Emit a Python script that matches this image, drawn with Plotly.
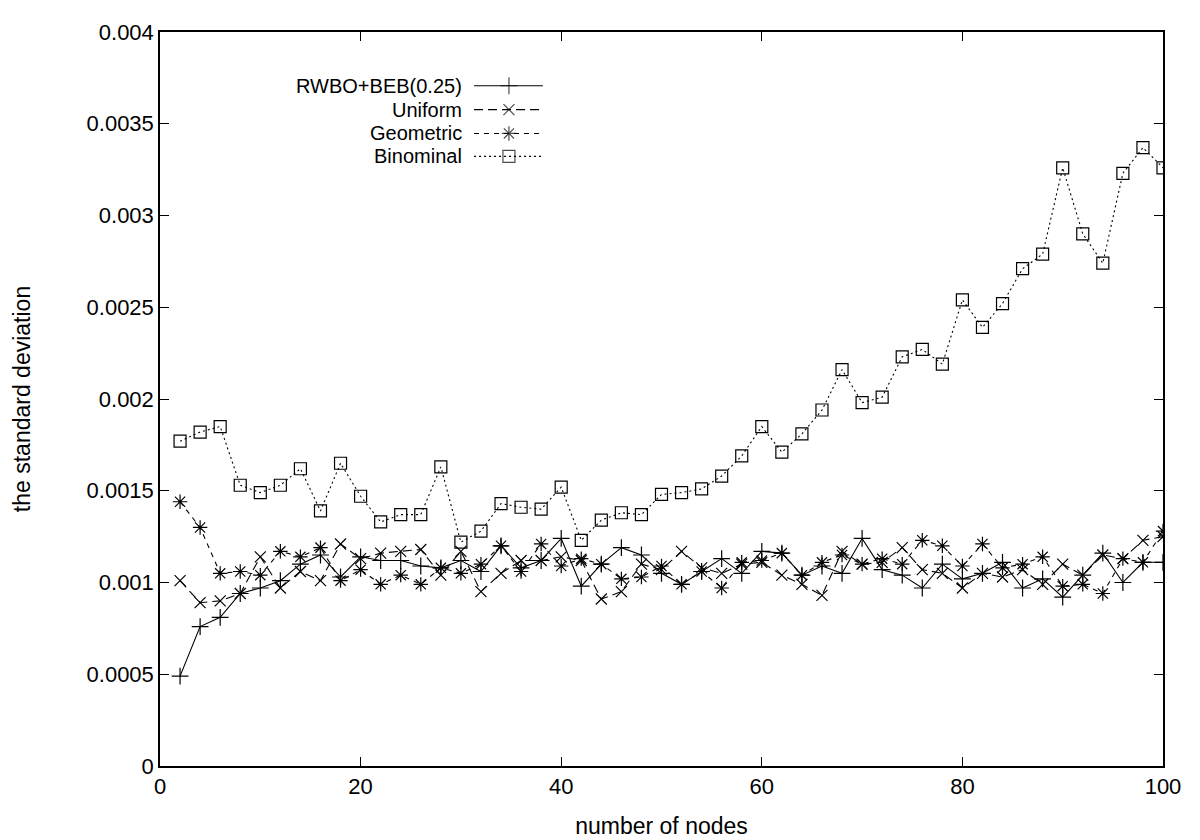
import plotly.graph_objects as go

nodes = list(range(2, 101, 2))

rwbo = [0.00049, 0.00076, 0.00081, 0.00094, 0.00097, 0.00101, 0.00110, 0.00115, 0.00103, 0.00114,
        0.00112, 0.00112, 0.00109, 0.00108, 0.00112, 0.00106, 0.00120, 0.00108, 0.00112, 0.00124,
        0.00098, 0.00110, 0.00119, 0.00115, 0.00105, 0.00099, 0.00106, 0.00113, 0.00105, 0.00117,
        0.00116, 0.00104, 0.00109, 0.00105, 0.00124, 0.00107, 0.00104, 0.00097, 0.00110, 0.00102,
        0.00105, 0.00111, 0.00097, 0.00102, 0.00092, 0.00104, 0.00116, 0.00100, 0.00111, 0.00111]

uniform = [0.00101, 0.00089, 0.00090, 0.00094, 0.00114, 0.00097, 0.00106, 0.00101, 0.00121, 0.00113,
           0.00116, 0.00117, 0.00118, 0.00104, 0.00117, 0.00095, 0.00105, 0.00112, 0.00112, 0.00114,
           0.00112, 0.00091, 0.00095, 0.00110, 0.00107, 0.00117, 0.00108, 0.00105, 0.00110, 0.00111,
           0.00104, 0.00099, 0.00093, 0.00117, 0.00110, 0.00111, 0.00119, 0.00107, 0.00105, 0.00097,
           0.00105, 0.00103, 0.00107, 0.00099, 0.00110, 0.00104, 0.00115, 0.00113, 0.00123, 0.00125]

geometric = [0.00144, 0.00130, 0.00105, 0.00106, 0.00104, 0.00117, 0.00114, 0.00119, 0.00101, 0.00107,
             0.00099, 0.00104, 0.00099, 0.00108, 0.00105, 0.00110, 0.00120, 0.00106, 0.00121, 0.00109,
             0.00113, 0.00110, 0.00102, 0.00103, 0.00109, 0.00099, 0.00106, 0.00097, 0.00111, 0.00112,
             0.00116, 0.00104, 0.00111, 0.00115, 0.00110, 0.00113, 0.00110, 0.00123, 0.00120, 0.00109,
             0.00121, 0.00108, 0.00110, 0.00114, 0.00098, 0.00099, 0.00094, 0.00113, 0.00111, 0.00128]

binominal = [0.00177, 0.00182, 0.00185, 0.00153, 0.00149, 0.00153, 0.00162, 0.00139, 0.00165, 0.00147,
             0.00133, 0.00137, 0.00137, 0.00163, 0.00122, 0.00128, 0.00143, 0.00141, 0.00140, 0.00152,
             0.00123, 0.00134, 0.00138, 0.00137, 0.00148, 0.00149, 0.00151, 0.00158, 0.00169, 0.00185,
             0.00171, 0.00181, 0.00194, 0.00216, 0.00198, 0.00201, 0.00223, 0.00227, 0.00219, 0.00254,
             0.00239, 0.00252, 0.00271, 0.00279, 0.00326, 0.00290, 0.00274, 0.00323, 0.00337, 0.00326]

series_names = ["RWBO+BEB(0.25)", "Uniform", "Geometric", "Binominal"]
y_tickvals = [0, 0.0005, 0.001, 0.0015, 0.002, 0.0025, 0.003, 0.0035, 0.004]
y_ticktext = ["0", "0.0005", "0.001", "0.0015", "0.002", "0.0025", "0.003", "0.0035", "0.004"]
x_tickvals = [0, 20, 40, 60, 80, 100]

FONT = "Liberation Sans, Arial, Helvetica, sans-serif"
styles = [
    dict(dash="solid", symbol="cross-thin", size=12),
    dict(dash="9px,5px", symbol="x-thin", size=11),
    dict(dash="5px,5px", symbol="asterisk", size=12),
    dict(dash="2px,3px", symbol="square-open", size=12),
]

fig = go.Figure()
for name, ys, st in zip(series_names, [rwbo, uniform, geometric, binominal], styles):
    fig.add_trace(go.Scatter(
        x=nodes, y=ys, mode="lines+markers", name=name, showlegend=False,
        line=dict(color="black", width=1.1, dash=st["dash"]),
        marker=dict(symbol=st["symbol"], size=st["size"], color="black",
                    line=dict(color="black", width=1.2)),
    ))

# custom gnuplot-style key (text right-aligned, sample on the right)
key_rows = [0.9268, 0.8943, 0.8618, 0.8306]
key_text_x = 0.3032
key_x0, key_xm, key_x1 = 0.3131, 0.3479, 0.3817
for name, st, ky in zip(series_names, styles, key_rows):
    fig.add_trace(go.Scatter(
        x=[key_x0, key_xm, key_x1], y=[ky, ky, ky], xaxis="x2", yaxis="y2",
        mode="lines+markers", showlegend=False, hoverinfo="skip",
        line=dict(color="black", width=1.1, dash=st["dash"]),
        marker=dict(symbol=st["symbol"], size=[0, st["size"], 0], color="black",
                    line=dict(color="black", width=1.2)),
    ))
    fig.add_annotation(x=key_text_x, y=ky, xref="x2", yref="y2", text=name,
                       showarrow=False, xanchor="right", yanchor="middle",
                       font=dict(family=FONT, size=20, color="black"))

axis_common = dict(showline=True, linecolor="black", linewidth=1.5, mirror="ticks",
                   ticks="inside", ticklen=9, tickwidth=1.2, tickcolor="black",
                   showgrid=False, zeroline=False,
                   tickfont=dict(family=FONT, size=22, color="black"))

fig.update_layout(
    width=1200, height=840,
    margin=dict(l=149, r=45, t=18, b=82),
    paper_bgcolor="white", plot_bgcolor="white",
    xaxis=dict(range=[0, 100], tickvals=x_tickvals,
               title=dict(text="number of nodes", font=dict(family=FONT, size=23, color="black"), standoff=20),
               **axis_common),
    yaxis=dict(range=[0, 0.004], tickvals=y_tickvals, ticktext=y_ticktext,
               title=dict(text="the standard deviation", font=dict(family=FONT, size=23, color="black"), standoff=50),
               **axis_common),
    xaxis2=dict(overlaying="x", range=[0, 1], visible=False, fixedrange=True),
    yaxis2=dict(overlaying="y", range=[0, 1], visible=False, fixedrange=True),
    showlegend=False,
)

fig.write_html("out.html")
